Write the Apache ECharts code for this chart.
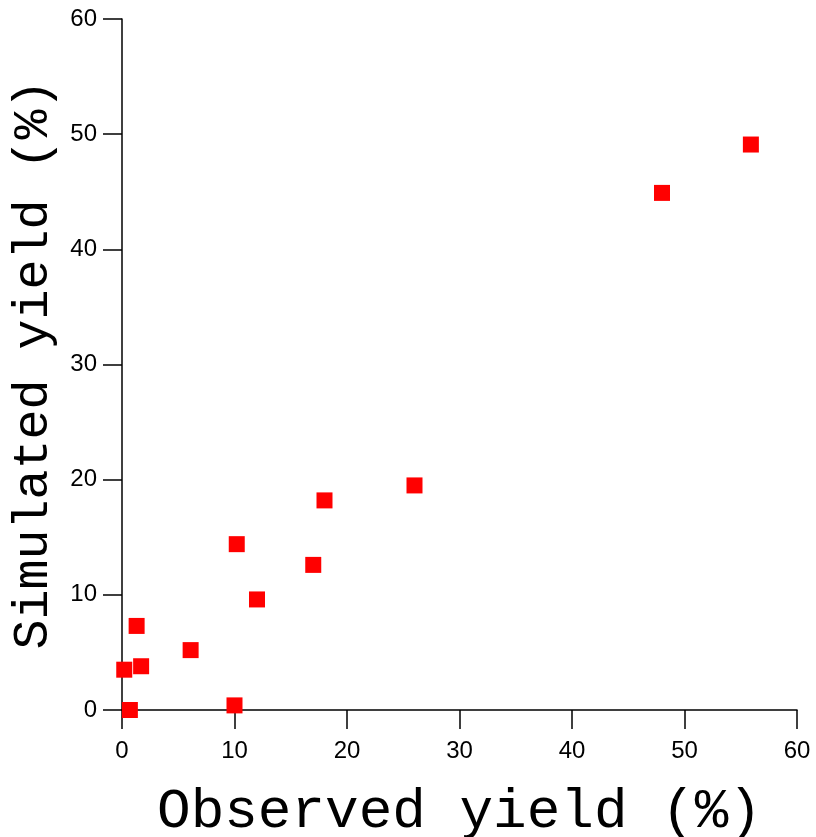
<!DOCTYPE html>
<html><head><meta charset="utf-8">
<script src="https://cdn.jsdelivr.net/npm/echarts@6/dist/echarts.min.js"></script>
<style>html,body{margin:0;padding:0;background:#fff}#c{width:816px;height:837px}</style>
</head><body><div id="c"></div>
<script>
const observed = [0.2, 0.7, 1.3, 1.7, 6.1, 10.0, 10.2, 12.0, 17.0, 18.0, 26.0, 48.0, 55.9];
const simulated = [3.5, 0.0, 7.3, 3.8, 5.2, 0.4, 14.4, 9.6, 12.6, 18.2, 19.5, 44.9, 49.1];
const axisTicks = [0, 10, 20, 30, 40, 50, 60];
const xTitle = 'Observed yield (%)';
const yTitle = 'Simulated yield (%)';

const chart = echarts.init(document.getElementById('c'), null, {renderer: 'canvas'});
const axisCommon = {
  min: axisTicks[0], max: axisTicks[axisTicks.length - 1], interval: axisTicks[1] - axisTicks[0],
  axisLine: {show: true, onZero: false, lineStyle: {color: '#000', width: 1.5}},
  axisTick: {show: true, inside: false, length: 19, lineStyle: {color: '#000', width: 1.5}},
  splitLine: {show: false},
  nameLocation: 'middle'
};
chart.setOption({
  animation: false,
  backgroundColor: '#fff',
  grid: {left: 122, right: 19, top: 19, bottom: 127, containLabel: false, outerBoundsMode: 'none'},
  xAxis: Object.assign({}, axisCommon, {
    type: 'value', name: xTitle, nameGap: 74,
    nameTextStyle: {fontFamily: 'Liberation Mono', fontSize: 56, color: '#000'},
    axisLabel: {margin: 29, fontFamily: 'Liberation Sans', fontSize: 24, color: '#000'}
  }),
  yAxis: Object.assign({}, axisCommon, {
    type: 'value', name: yTitle, nameGap: 63,
    nameTextStyle: {fontFamily: 'Liberation Mono', fontSize: 50, color: '#000'},
    axisLabel: {margin: 25, fontFamily: 'Liberation Sans', fontSize: 24, color: '#000'}
  }),
  series: [{
    type: 'scatter',
    data: observed.map((v, i) => [v, simulated[i]]),
    symbol: 'rect', symbolSize: 16,
    itemStyle: {color: '#ff0000', opacity: 1}
  }]
});
</script></body></html>
